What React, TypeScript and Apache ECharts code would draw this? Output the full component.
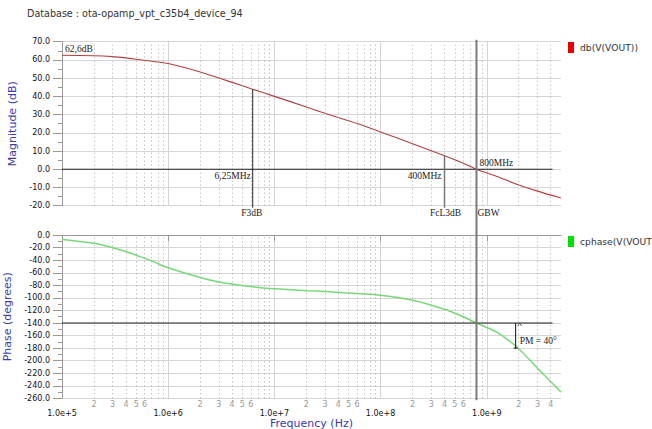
import React, { useEffect, useRef } from "react";
import * as echarts from "echarts";

// ---------- data ----------
const freqHz = [
  1e5, 2e5, 3e5, 4e5, 5e5, 7e5, 1e6, 2e6, 3e6, 5e6, 6.25e6, 1e7, 2e7, 3e7, 6e7,
  1e8, 2e8, 4e8, 6e8, 8e8, 1.25e9, 2e9, 3e9, 5e9,
];
const magnitudeDb = [
  62.6, 62.3, 61.8, 61.1, 60.4, 59.3, 58.0, 53.4, 50.1, 45.8, 43.9, 40.0, 34.2, 30.7, 25.1,
  20.5, 14.0, 7.4, 3.3, 0.0, -4.0, -8.6, -12.0, -15.8,
];
const phaseDeg = [
  -7, -13, -20, -26, -32, -41, -52, -67.5, -74.7, -80.3, -82.3, -85.5, -88.5, -89.8, -93,
  -95.8, -103.6, -118, -130, -140, -155, -181, -212, -250,
];

const freqMin = 1e5;
const freqMax = 5e9;
const magMin = -20;
const magMax = 70;
const phaseMin = -260;
const phaseMax = 0;

const decades = [1e5, 1e6, 1e7, 1e8, 1e9];
const minorMultipliers = [2, 3, 4, 5, 6, 7, 8, 9];
const labeledMultipliers = [2, 3, 4, 5, 6];

// markers
const dcGainDb = 62.6;
const dcGainLabel = "62,6dB";
const f3dbHz = 6.25e6;
const f3dbMag = 43.9;
const f3dbLabel = "6,25MHz";
const fcl3dbHz = 4e8;
const fcl3dbMag = 7.4;
const fcl3dbLabel = "400MHz";
const gbwHz = 8e8;
const gbwLabel = "800MHz";
const phaseAtGbw = -140;
const pmHz = 1.87e9;
const pmDeg = 40;
const refLineEndHz = 4.16e9;

const title = "Database : ota-opamp_vpt_c35b4_device_94";
const magName = "db(V(VOUT))";
const phaseName = "cphase(V(VOUT))";

const SANS = "DejaVu Sans";
const SERIF = "Liberation Serif";
const NAME_COLOR = "#3a3aa8";

const minorFreqs: { f: number; m: number }[] = [];
decades.forEach((d) =>
  minorMultipliers.forEach((m) => {
    if (d * m < freqMax) minorFreqs.push({ f: d * m, m });
  })
);

const isDecade = (v: number) => {
  const l = Math.log10(v);
  return Math.abs(l - Math.round(l)) < 1e-6;
};

function buildOption(): any {
  const xBase = {
    type: "log",
    logBase: 10,
    min: freqMin,
    max: freqMax,
    splitLine: {
      show: true,
      showMaxLine: false,
      lineStyle: { color: "#d4d4d4", width: 1 },
    },
  };
  const yBase = (gridIndex: number, min: number, max: number, interval: number, name: string) => ({
    type: "value",
    gridIndex,
    min,
    max,
    interval,
    axisLine: { show: true, lineStyle: { color: "#999", width: 1 } },
    axisTick: { show: true, length: 9, lineStyle: { color: "#999" } },
    minorTick: { show: true, splitNumber: 2, length: 4, lineStyle: { color: "#999" } },
    axisLabel: {
      margin: 12,
      fontSize: 8,
      color: "#111",
      fontFamily: SANS,
      formatter: (v: number) => v.toFixed(1),
    },
    splitLine: { show: true, lineStyle: { color: "#d6d6d6", width: 1 } },
    name,
    nameLocation: "middle",
    nameGap: 37,
    nameTextStyle: { color: NAME_COLOR, fontSize: 11, fontFamily: SANS },
  });

  const dotted = { type: [1, 3], color: "#a8a8a8", width: 1 };

  return {
    animation: false,
    backgroundColor: "#ffffff",
    title: {
      text: title,
      left: 22,
      top: 3,
      textStyle: { fontSize: 9.6, fontWeight: "normal", color: "#333", fontFamily: SANS },
    },
    legend: [
      {
        left: 563,
        top: 37,
        orient: "vertical",
        icon: "rect",
        itemWidth: 6,
        itemHeight: 11,
        selectedMode: false,
        itemStyle: { borderWidth: 0 },
        textStyle: { fontSize: 9.2, color: "#333", fontFamily: SANS, padding: [0, 0, 0, 1] },
        data: [{ name: magName, itemStyle: { color: "#e80000", borderWidth: 0 } }],
      },
      {
        left: 563,
        top: 231,
        orient: "vertical",
        icon: "rect",
        itemWidth: 6,
        itemHeight: 11,
        selectedMode: false,
        itemStyle: { borderWidth: 0 },
        textStyle: { fontSize: 9.2, color: "#333", fontFamily: SANS, padding: [0, 0, 0, 1] },
        data: [{ name: phaseName, itemStyle: { color: "#00e000", borderWidth: 0 } }],
      },
    ],
    grid: [
      { left: 62, top: 41.7, width: 499, height: 164, containLabel: false, outerBoundsMode: "none" },
      { left: 62, top: 235.2, width: 499, height: 163.1, containLabel: false, outerBoundsMode: "none" },
    ],
    xAxis: [
      {
        ...xBase,
        gridIndex: 0,
        axisLine: { show: false },
        axisTick: { show: false },
        axisLabel: { show: false },
      },
      {
        ...xBase,
        gridIndex: 1,
        axisLine: { show: true, lineStyle: { color: "#999" } },
        axisTick: { show: true, length: 6, lineStyle: { color: "#999" } },
        axisLabel: {
          margin: 11,
          fontSize: 8,
          color: "#111",
          fontFamily: SANS,
          showMinLabel: true,
          showMaxLabel: false,
          formatter: (v: number) => (isDecade(v) ? v.toExponential(1) : ""),
        },
        name: "Frequency (Hz)",
        nameLocation: "middle",
        nameGap: 19,
        nameTextStyle: { color: NAME_COLOR, fontSize: 11, fontFamily: SANS },
      },
    ],
    yAxis: [
      yBase(0, magMin, magMax, 10, "Magnitude (dB)"),
      yBase(1, phaseMin, phaseMax, 20, "Phase (degrees)"),
    ],
    series: [
      {
        name: magName,
        type: "line",
        xAxisIndex: 0,
        yAxisIndex: 0,
        data: freqHz.map((f, i) => [f, magnitudeDb[i]]),
        symbol: "none",
        showSymbol: false,
        smooth: 0.25,
        silent: true,
        lineStyle: { color: "#b0403f", width: 1.1 },
        itemStyle: { color: "#e80000" },
        markLine: {
          silent: true,
          symbol: ["none", "none"],
          animation: false,
          label: { show: false },
          emphasis: { disabled: true },
          lineStyle: dotted,
          data: minorFreqs.map(({ f }) => [{ coord: [f, magMin] }, { coord: [f, magMax] }]),
        },
      },
      {
        name: phaseName,
        type: "line",
        xAxisIndex: 1,
        yAxisIndex: 1,
        data: freqHz.map((f, i) => [f, phaseDeg[i]]),
        symbol: "none",
        showSymbol: false,
        smooth: 0.25,
        silent: true,
        lineStyle: { color: "#78d878", width: 1.5 },
        itemStyle: { color: "#00e000" },
        markLine: {
          silent: true,
          symbol: ["none", "none"],
          animation: false,
          emphasis: { disabled: true },
          lineStyle: dotted,
          label: { show: false },
          data: minorFreqs.map(({ f, m }) => [
            {
              coord: [f, phaseMin],
              label: {
                show: labeledMultipliers.includes(m),
                position: "start",
                distance: 2,
                formatter: String(m),
                color: "#999",
                fontSize: 8,
                fontFamily: SANS,
              },
            },
            { coord: [f, phaseMax] },
          ]),
        },
      },
    ],
  };
}

function txt(x: number, y: number, text: string, align: string, size = 9.5, font = SERIF) {
  return {
    type: "text",
    x,
    y,
    z: 20,
    silent: true,
    style: {
      text,
      fill: "#1a1a1a",
      fontSize: size,
      fontFamily: font,
      align,
      textAlign: align,
      verticalAlign: "middle",
      textVerticalAlign: "middle",
    },
  };
}

function seg(x1: number, y1: number, x2: number, y2: number, stroke: string, lineWidth: number) {
  return {
    type: "line",
    z: 15,
    silent: true,
    shape: { x1, y1, x2, y2 },
    style: { stroke, lineWidth },
  };
}

export default function App() {
  const ref = useRef<HTMLDivElement>(null);
  useEffect(() => {
    document.body.style.margin = "0";
    const chart = echarts.init(ref.current!, null, { renderer: "svg" });
    chart.setOption(buildOption());

    const m = (f: number, v: number) => chart.convertToPixel({ seriesIndex: 0 }, [f, v]) as number[];
    const p = (f: number, v: number) => chart.convertToPixel({ seriesIndex: 1 }, [f, v]) as number[];

    const els: any[] = [];
    // DC gain label
    const dc = m(freqMin, dcGainDb);
    els.push(txt(dc[0] + 3, dc[1] - 6, dcGainLabel, "left"));

    // 0 dB reference line & -140 deg reference line
    const z0 = m(freqMin, 0);
    const z1 = m(refLineEndHz, 0);
    els.push(seg(z0[0], z0[1], z1[0], z1[1], "#222", 1));
    const ph0 = p(freqMin, phaseAtGbw);
    const ph1 = p(refLineEndHz, phaseAtGbw);
    els.push(seg(ph0[0], ph0[1], ph1[0], ph1[1], "#222", 1));

    // F3dB
    const fa = m(f3dbHz, f3dbMag);
    const fb = m(f3dbHz, magMin);
    els.push(seg(fa[0], fa[1], fb[0], fb[1] + 2, "#222", 1));
    els.push(txt(fa[0] - 2, m(f3dbHz, -3.5)[1], f3dbLabel, "right"));
    els.push(txt(fa[0] - 1, fb[1] + 7, "F3dB", "center"));

    // FcL3dB
    const ca = m(fcl3dbHz, fcl3dbMag);
    const cb = m(fcl3dbHz, magMin);
    els.push(seg(ca[0], ca[1], cb[0], cb[1] + 2, "#777", 1.5));
    els.push(txt(ca[0] - 3, m(fcl3dbHz, -3.7)[1], fcl3dbLabel, "right"));
    els.push(txt(ca[0] + 1, cb[1] + 7, "FcL3dB", "center"));

    // GBW
    const ga = m(gbwHz, magMax);
    const gb = p(gbwHz, phaseMin);
    els.push(seg(ga[0], ga[1] - 2, gb[0], gb[1] + 2, "#7a7a7a", 2));
    els.push(txt(ga[0] + 3, m(gbwHz, 3.6)[1], gbwLabel, "left"));
    els.push(txt(ga[0] + 1, cb[1] + 7, "GBW", "left"));

    // Phase margin
    const pa = p(pmHz, phaseAtGbw);
    const pb = p(pmHz, phaseAtGbw - pmDeg);
    els.push(seg(pa[0], pa[1], pb[0], pb[1], "#111", 1));
    els.push({
      type: "polyline",
      z: 15,
      silent: true,
      shape: { points: [[pa[0] + 2, pa[1] + 3], [pa[0] + 4, pa[1]], [pa[0] + 6, pa[1] + 3]] },
      style: { stroke: "#333", lineWidth: 0.8, fill: "none" },
    });
    els.push(seg(pb[0] - 2, pb[1], pb[0] + 2, pb[1], "#111", 1));
    els.push(txt(pa[0] + 4, p(pmHz, -168)[1], `PM = ${pmDeg}°`, "left"));

    chart.setOption({ graphic: { elements: els } });
    return () => chart.dispose();
  }, []);
  return <div ref={ref} style={{ width: 652, height: 429 }} />;
}
